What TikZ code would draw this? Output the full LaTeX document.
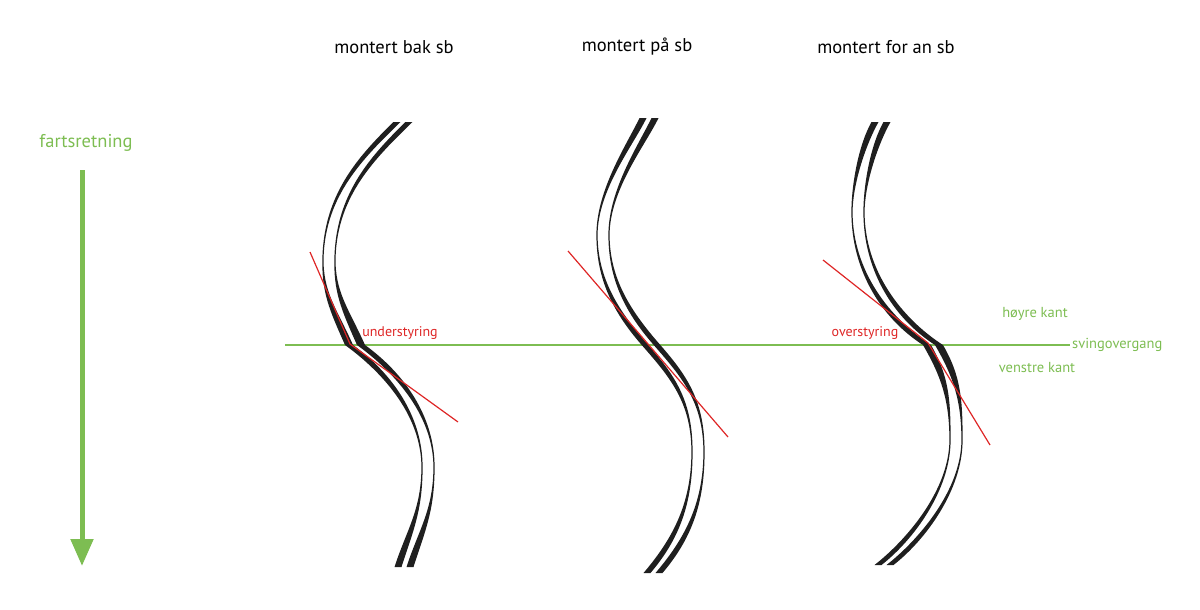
\documentclass[tikz,border=0pt]{standalone}
\usepackage{fontspec}
\setmainfont{PT Sans}
\usetikzlibrary{arrows.meta}
\definecolor{fartgreen}{RGB}{125,189,82}
\definecolor{styrred}{RGB}{222,38,38}
\tikzset{
x=1pt, y=-1pt, % one unit is one pixel of the sketch, y runs downwards
tyre/.style={fill=black!88}, % the two tracks of each tyre
title/.style={font=\fontsize{18.5}{22}\selectfont}, % text above each tyre
green label/.style={text=fartgreen, font=\fontsize{14.5}{17}\selectfont},
red label/.style={text=styrred, font=\fontsize{14}{17}\selectfont},
sving line/.style={draw=fartgreen, line width=1.2pt}, % the turn change line
tangent/.style={draw=styrred, line width=1.2pt}, % red direction line
}
% one track, filled between two offset curves: #1 = shift, #2 = half width in the middle
\newcommand{\tyrestroke}[2]{%
  \fill[tyre]
    ([xshift=#1-3.5pt]t0) .. controls ([xshift=#1-3.5pt]a1) and ([xshift=#1-0.6pt]a2) .. ([xshift=#1-0.6pt]t1)
    .. controls ([xshift=#1-0.6pt]b1) and ([xshift=#1-#2]b2) .. ([xshift=#1-#2]t2)
    .. controls ([xshift=#1-#2]c1) and ([xshift=#1-0.6pt]c2) .. ([xshift=#1-0.6pt]t3)
    .. controls ([xshift=#1-0.6pt]d1) and ([xshift=#1-3.5pt]d2) .. ([xshift=#1-3.5pt]t4)
    -- ([xshift=#1+3.5pt]t4)
    .. controls ([xshift=#1+3.5pt]d2) and ([xshift=#1+0.6pt]d1) .. ([xshift=#1+0.6pt]t3)
    .. controls ([xshift=#1+0.6pt]c2) and ([xshift=#1+#2]c1) .. ([xshift=#1+#2]t2)
    .. controls ([xshift=#1+#2]b2) and ([xshift=#1+0.6pt]b1) .. ([xshift=#1+0.6pt]t1)
    .. controls ([xshift=#1+0.6pt]a2) and ([xshift=#1+3.5pt]a1) .. ([xshift=#1+3.5pt]t0)
    -- cycle;}

\begin{document}
\begin{tikzpicture}
        \useasboundingbox (0,0) rectangle (1200,610);

        \node[title] (bak) at (394,47) {montert bak sb};
        \node[title] (paa) at (637,47) {montert på sb};
        \node[title] (foran) at (886,47) {montert for an sb};

        % direction of travel
        \node[green label, font=\fontsize{18.5}{22}\selectfont] (fart) at (86,143) {fartsretning};
        \coordinate (fart-top) at (82,170);
        \coordinate (fart-end) at (82,566);
        \draw[fartgreen, line width=5pt, -{Triangle[width=22pt, length=27pt]}] (fart-top) -- (fart-end);

        % turn change line
        \coordinate (sving-start) at (285,345);
        \node[green label, anchor=west, inner sep=2pt] (sving) at (1070,345) {svingovergang};
        \draw[sving line] (sving-start) -- (sving.west);
        \node[green label] (hoyre) at (1035,314) {høyre kant};
        \node[green label] (venstre) at (1037,368) {venstre kant};

        % tyre mounted behind
        \coordinate (t0) at (397,122); \coordinate (a1) at (360,158); \coordinate (a2) at (325,195);
        \coordinate (t1) at (323,257); \coordinate (b1) at (322,292); \coordinate (b2) at (333,309);
        \coordinate (t2) at (349,345); \coordinate (c1) at (389,374); \coordinate (c2) at (422,417);
        \coordinate (t3) at (422,467); \coordinate (d1) at (422,510); \coordinate (d2) at (410,530);
        \coordinate (t4) at (398,567);
        \tyrestroke{0pt}{4pt}
        \tyrestroke{12pt}{4pt}
        \coordinate (under-a) at (310,252);
        \coordinate (under-b) at (350,344);
        \coordinate (under-c) at (458,422);
        \draw[tangent] (under-a) -- (under-b) -- (under-c);
        \node[red label] (under) at (400,333) {understyring};

        % tyre mounted on
        \coordinate (t0) at (643,118); \coordinate (a1) at (630,145); \coordinate (a2) at (597,190);
        \coordinate (t1) at (597,235); \coordinate (b1) at (597,280); \coordinate (b2) at (617,313);
        \coordinate (t2) at (645,345); \coordinate (c1) at (673,377); \coordinate (c2) at (692,402);
        \coordinate (t3) at (692,452); \coordinate (d1) at (692,505); \coordinate (d2) at (675,540);
        \coordinate (t4) at (647,573);
        \tyrestroke{0pt}{3.3pt}
        \tyrestroke{12pt}{3.3pt}
        \coordinate (paa-a) at (568,251);
        \coordinate (paa-b) at (728,437);
        \draw[tangent] (paa-a) -- (paa-b);

        % tyre mounted in front
        \coordinate (t0) at (875,122); \coordinate (a1) at (862,145); \coordinate (a2) at (852,185);
        \coordinate (t1) at (852,212); \coordinate (b1) at (852,270); \coordinate (b2) at (885,318);
        \coordinate (t2) at (927,345); \coordinate (c1) at (945,376); \coordinate (c2) at (950,400);
        \coordinate (t3) at (950,440); \coordinate (d1) at (950,490); \coordinate (d2) at (910,540);
        \coordinate (t4) at (878,565);
        \tyrestroke{0pt}{4pt}
        \tyrestroke{12pt}{4pt}
        \coordinate (over-a) at (823,260);
        \coordinate (over-b) at (928,343);
        \coordinate (over-c) at (990,445);
        \draw[tangent] (over-a) -- (over-b) -- (over-c);
        \node[red label] (over) at (865,333) {overstyring};
    \end{tikzpicture}
\end{document}
